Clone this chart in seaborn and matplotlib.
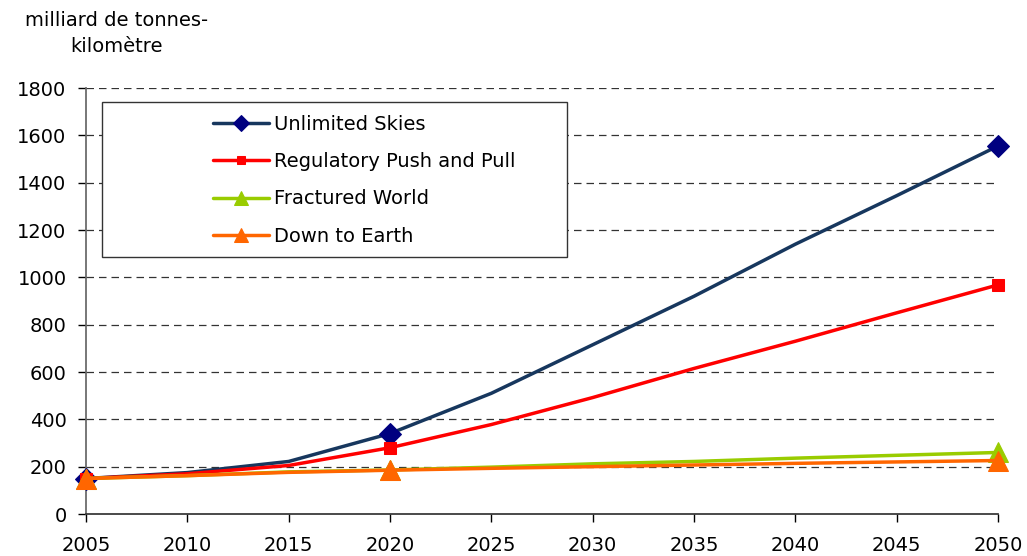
import matplotlib
matplotlib.use("Agg")
import matplotlib.pyplot as plt
import seaborn as sns
import pandas as pd
from matplotlib.patches import Rectangle

years = [2005, 2010, 2015, 2020, 2025, 2030, 2035, 2040, 2045, 2050]
unlimited_skies = [150, 175, 222, 340, 510, 715, 920, 1140, 1345, 1555]
regulatory_push_pull = [150, 170, 205, 280, 378, 492, 615, 730, 850, 968]
fractured_world = [150, 162, 178, 186, 198, 212, 222, 236, 248, 260]
down_to_earth = [150, 162, 176, 185, 193, 200, 207, 214, 220, 226]
series_names = ["Unlimited Skies", "Regulatory Push and Pull", "Fractured World", "Down to Earth"]
y_ticks = [0, 200, 400, 600, 800, 1000, 1200, 1400, 1600, 1800]
x_ticks = [2005, 2010, 2015, 2020, 2025, 2030, 2035, 2040, 2045, 2050]
marker_years = [2005, 2020, 2050]

sns.set_theme(style="white")
plt.rcParams["font.family"] = ["DejaVu Sans"]
plt.rcParams["text.color"] = "black"

fig = plt.figure(figsize=(10.27, 5.56), dpi=100)
ax = fig.add_axes([86/1027, 1-514/556, (998-86)/1027, (514-88)/556])

styles = [
    dict(color="#17375E", marker="D", mfc="#000080", mec="#000080", ms=11),
    dict(color="#FF0000", marker="s", mfc="#FF0000", mec="#FF0000", ms=8),
    dict(color="#99CC00", marker="^", mfc="#99CC00", mec="#99CC00", ms=14),
    dict(color="#FF6600", marker="^", mfc="#FF6600", mec="#FF6600", ms=14),
]
all_vals = [unlimited_skies, regulatory_push_pull, fractured_world, down_to_earth]
mark_idx = [years.index(y) for y in marker_years]

for name, vals, st in zip(series_names, all_vals, styles):
    df = pd.DataFrame({"year": years, "value": vals})
    sns.lineplot(data=df, x="year", y="value", ax=ax, color=st["color"], lw=2.5,
                 marker=st["marker"], markevery=mark_idx, markersize=st["ms"],
                 markerfacecolor=st["mfc"], markeredgecolor=st["mec"], label=name,
                 zorder=3, clip_on=False)

ax.set_xlim(2005, 2050)
ax.set_ylim(0, 1800)
ax.set_xticks(x_ticks)
ax.set_yticks(y_ticks)
ax.tick_params(axis="both", labelsize=14, colors="black", length=6, width=1, direction="out",
               left=True, bottom=True)
for t in y_ticks[1:]:
    ax.axhline(t, color="#333333", lw=0.9, ls=(0, (6, 4)), zorder=1)
for s in ["top", "right"]:
    ax.spines[s].set_visible(False)
ax.spines["left"].set_color("#666666")
ax.spines["bottom"].set_color("#333333")
ax.set_xlabel("")
ax.set_ylabel("")
ax.tick_params(axis="x", pad=10)
ax.tick_params(axis="y", pad=8)

fig.text(117/1027, 1-20/556, "milliard de tonnes-", ha="center", va="center", fontsize=14,
         color="black")
fig.text(117/1027, 1-46/556, "kilomètre", ha="center", va="center", fontsize=14,
         color="black")

ax.add_patch(Rectangle((102/1027, 1-257/556), (567-102)/1027, (257-102)/556,
                       transform=fig.transFigure, facecolor="white",
                       edgecolor="#333333", lw=1, zorder=5, clip_on=False))
leg = ax.legend(loc="upper left", bbox_to_anchor=(197/1027, 1-99/556),
                bbox_transform=fig.transFigure, frameon=False, fontsize=14,
                handlelength=2.9, handletextpad=0.25, labelspacing=0.95,
                borderpad=0.3, markerscale=0.75)
for txt in leg.get_texts():
    txt.set_color("black")
leg.set_zorder(6)

fig.savefig("out.png", dpi=100)
